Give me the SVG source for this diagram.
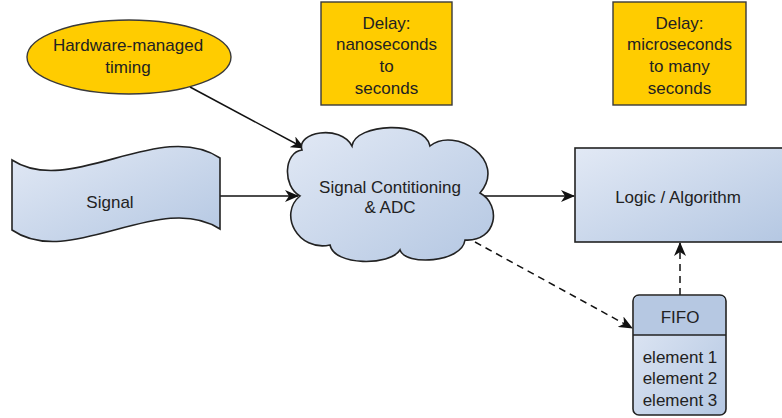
<svg xmlns="http://www.w3.org/2000/svg" width="782" height="418" viewBox="0 0 782 418">
  <style>
    text { font-family: "Liberation Sans", Arial, sans-serif; font-size: 17px; fill: #222; text-anchor: middle; }
    .yellow { fill: #ffcc00; stroke: #3a3a3a; stroke-width: 1.4; }
    .blue { fill: url(#blueGrad); stroke: #222; stroke-width: 1.6; }
    .conn { fill: none; stroke: #111; stroke-width: 1.5; }
    .dash { stroke-dasharray: 7 5; }
  </style>
  <defs>
    <linearGradient id="blueGrad" x1="0" y1="0" x2="1" y2="1">
      <stop offset="0" stop-color="#e2e9f5"/>
      <stop offset="1" stop-color="#b4c7e2"/>
    </linearGradient>
    <marker id="arrow" markerUnits="userSpaceOnUse" markerWidth="16" markerHeight="12" refX="13" refY="6" orient="auto">
      <path d="M0,0 L14,6 L0,12 L4,6 Z" fill="#111"/>
    </marker>
  </defs>

  <!-- connectors -->
  <g id="connectors">
    <line class="conn" x1="190" y1="87" x2="304" y2="148" marker-end="url(#arrow)"/>
    <line class="conn" x1="220" y1="196" x2="298" y2="196" marker-end="url(#arrow)"/>
    <line class="conn" x1="481" y1="196" x2="574" y2="196" marker-end="url(#arrow)"/>
    <line class="conn dash" x1="475" y1="242" x2="632" y2="328" marker-end="url(#arrow)"/>
    <line class="conn dash" x1="680" y1="295" x2="680" y2="243" marker-end="url(#arrow)"/>
  </g>

  <!-- timing source -->
  <g id="timing">
    <ellipse class="yellow" cx="129" cy="57" rx="102" ry="37"/>
    <text x="128" y="51">Hardware-managed</text>
    <text x="128" y="73">timing</text>
  </g>

  <!-- delay notes -->
  <g id="delay-ns">
    <rect class="yellow" x="321" y="2" width="131" height="103"/>
    <text x="386.5" y="29">Delay:</text>
    <text x="386.5" y="50">nanoseconds</text>
    <text x="386.5" y="72">to</text>
    <text x="386.5" y="94">seconds</text>
  </g>
  <g id="delay-us">
    <rect class="yellow" x="613" y="2" width="133" height="103"/>
    <text x="679.5" y="29">Delay:</text>
    <text x="679.5" y="50">microseconds</text>
    <text x="679.5" y="72">to many</text>
    <text x="679.5" y="94">seconds</text>
  </g>

  <!-- input signal (tape shape) -->
  <g id="signal">
    <path class="blue" d="M12,160 C70,198 160,118 220,158 L220,229 C160,190 70,270 12,230 Z"/>
    <text x="110" y="208">Signal</text>
  </g>

  <!-- conditioning cloud -->
  <g id="conditioning">
    <path class="blue" d="M302,150 C296,132 340,124 352,146 C355,123 425,120 430,146 C455,126 508,160 480,193 C502,205 497,242 465,240 C462,263 405,266 400,250 C390,266 334,266 330,245 C298,252 278,214 300,196 C282,186 284,152 302,150 Z"/>
    <text x="390" y="193">Signal Contitioning</text>
    <text x="390" y="213">&amp; ADC</text>
  </g>

  <!-- processing block -->
  <g id="logic">
    <rect class="blue" x="575" y="148" width="215" height="94"/>
    <text x="678" y="203">Logic / Algorithm</text>
  </g>

  <!-- buffer -->
  <g id="fifo">
    <rect class="blue" x="633" y="295" width="93" height="120" rx="6"/>
    <path d="M634,335 L634,301 Q634,296 639,296 L720,296 Q725,296 725,301 L725,335 Z" fill="#b6c8e2"/>
    <line x1="633" y1="335" x2="726" y2="335" stroke="#222" stroke-width="1.5"/>
    <text x="680" y="323">FIFO</text>
    <text x="680" y="363">element 1</text>
    <text x="680" y="384">element 2</text>
    <text x="680" y="406">element 3</text>
  </g>
</svg>
